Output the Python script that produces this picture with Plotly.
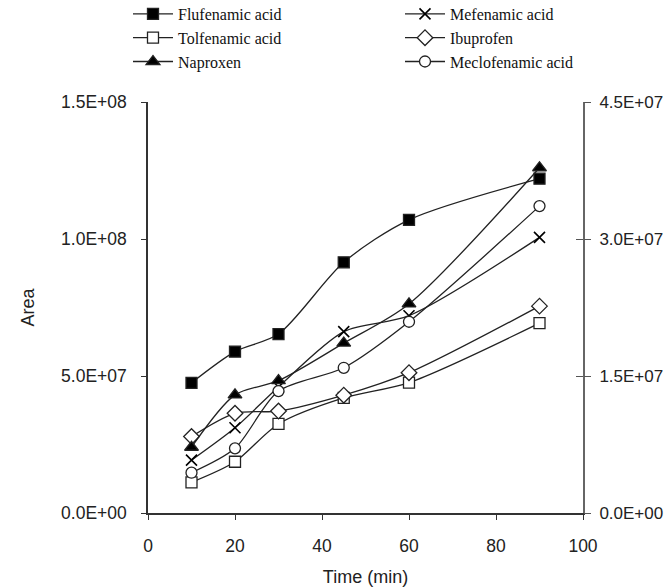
import plotly.graph_objects as go

time = [10, 20, 30, 45, 60, 90]
flufenamic = [4.75e7, 5.89e7, 6.53e7, 9.15e7, 1.07e8, 1.22e8]
mefenamic = [1.93e7, 3.11e7, 4.6e7, 6.62e7, 7.2e7, 1.006e8]
tolfenamic = [1.12e7, 1.87e7, 3.25e7, 4.2e7, 4.76e7, 6.93e7]
ibuprofen = [2.79e7, 3.64e7, 3.72e7, 4.3e7, 5.12e7, 7.55e7]
naproxen = [2.4e7, 4.31e7, 4.83e7, 6.2e7, 7.63e7, 1.26e8]
meclofenamic = [1.47e7, 2.36e7, 4.45e7, 5.3e7, 6.98e7, 1.12e8]

left_ticks = [0, 5e7, 1e8, 1.5e8]
left_text = ["0.0E+00", "5.0E+07", "1.0E+08", "1.5E+08"]
right_ticks = [0, 1.5e7, 3e7, 4.5e7]
right_text = ["0.0E+00", "1.5E+07", "3.0E+07", "4.5E+07"]
x_ticks = [0, 20, 40, 60, 80, 100]

series = [
    ("Flufenamic acid", flufenamic, "square", "black", "legend"),
    ("Mefenamic acid", mefenamic, "x-thin-open", "black", "legend2"),
    ("Tolfenamic acid", tolfenamic, "square", "white", "legend"),
    ("Ibuprofen", ibuprofen, "diamond", "white", "legend2"),
    ("Naproxen", naproxen, "triangle-up", "black", "legend"),
    ("Meclofenamic acid", meclofenamic, "circle", "white", "legend2"),
]

fig = go.Figure()
for name, vals, sym, fill, lg in series:
    size = 11
    if sym in ("diamond", "triangle-up"):
        size = 12
    fig.add_trace(go.Scatter(
        x=time, y=vals, name=name, mode="lines+markers",
        line=dict(color="#222222", width=1.3, shape="spline", smoothing=0.8),
        marker=dict(symbol=sym, size=size, color=fill,
                    line=dict(color="#222222", width=1.3 if sym != "x-thin-open" else 1.6)),
        legend=lg,
    ))

# invisible traces that anchor the extra axes (right axis labels and tick overlays)
for ya in ("y2", "y3", "y4", "y5"):
    fig.add_trace(go.Scatter(x=[None], y=[None], yaxis=ya, showlegend=False))
fig.add_trace(go.Scatter(x=[None], y=[None], xaxis="x2", showlegend=False))

sans = "Liberation Sans, Arial, sans-serif"
axis_font = dict(family=sans, size=17.5, color="#222222")
right_font = dict(family=sans, size=17, color="#222222")
title_font = dict(family=sans, size=18, color="#222222")
legend_font = dict(family="Liberation Serif, Times New Roman, serif", size=16, color="#111111")
clear = "rgba(0,0,0,0)"

plot_h = 588 - 102 - 75
legend_top = 1 + (102 + 3) / plot_h

fig.update_layout(
    width=671, height=588,
    margin=dict(l=148, r=88, t=102, b=75, autoexpand=False),
    plot_bgcolor="white", paper_bgcolor="white",
    xaxis=dict(range=[0, 100], tickvals=x_ticks, ticks="outside", ticklen=16,
               tickcolor=clear, showline=True, linecolor="#333", linewidth=1.5,
               showgrid=False, zeroline=False, tickfont=axis_font, automargin=False,
               title=dict(text="Time (min)", font=title_font, standoff=16)),
    xaxis2=dict(range=[0, 100], tickvals=x_ticks, ticks="outside", ticklen=6,
                tickcolor="#333", showticklabels=False, overlaying="x", side="bottom",
                anchor="y", showline=False, showgrid=False, zeroline=False, automargin=False),
    yaxis=dict(range=[0, 1.5e8], tickvals=left_ticks, ticktext=left_text,
               ticks="outside", ticklen=16, tickcolor=clear, showline=True,
               linecolor="#333", linewidth=1.5, showgrid=False, zeroline=False,
               tickfont=axis_font, automargin=False,
               title=dict(text="Area", font=title_font, standoff=22)),
    yaxis3=dict(range=[0, 1.5e8], tickvals=left_ticks, showticklabels=False,
                overlaying="y", side="left", ticks="outside", ticklen=6,
                tickcolor="#333", showline=False, showgrid=False, zeroline=False,
                automargin=False),
    yaxis2=dict(range=[0, 4.5e7], tickvals=right_ticks, ticktext=right_text,
                overlaying="y", side="right", ticks="outside", ticklen=11,
                tickcolor=clear, showline=True, linecolor="#666", linewidth=2,
                showgrid=False, zeroline=False, tickfont=right_font, automargin=False),
    yaxis4=dict(range=[0, 4.5e7], tickvals=right_ticks, showticklabels=False,
                overlaying="y", side="right", ticks="inside", ticklen=7,
                tickcolor="#555", showline=False, showgrid=False, zeroline=False,
                automargin=False),
    yaxis5=dict(range=[0, 4.5e7], tickvals=right_ticks, showticklabels=False,
                overlaying="y", side="right", ticks="outside", ticklen=7,
                tickcolor="#555", showline=False, showgrid=False, zeroline=False,
                automargin=False),
    legend=dict(x=(128 - 148) / 435, y=legend_top, xref="paper", yref="paper",
                xanchor="left", yanchor="top",
                font=legend_font, bgcolor=clear, itemwidth=40,
                tracegroupgap=0, orientation="v"),
    legend2=dict(x=(400 - 148) / 435, y=legend_top, xref="paper", yref="paper",
                 xanchor="left", yanchor="top",
                 font=legend_font, bgcolor=clear, itemwidth=40,
                 tracegroupgap=0, orientation="v"),
    showlegend=True,
)

fig.write_html("out.html")
